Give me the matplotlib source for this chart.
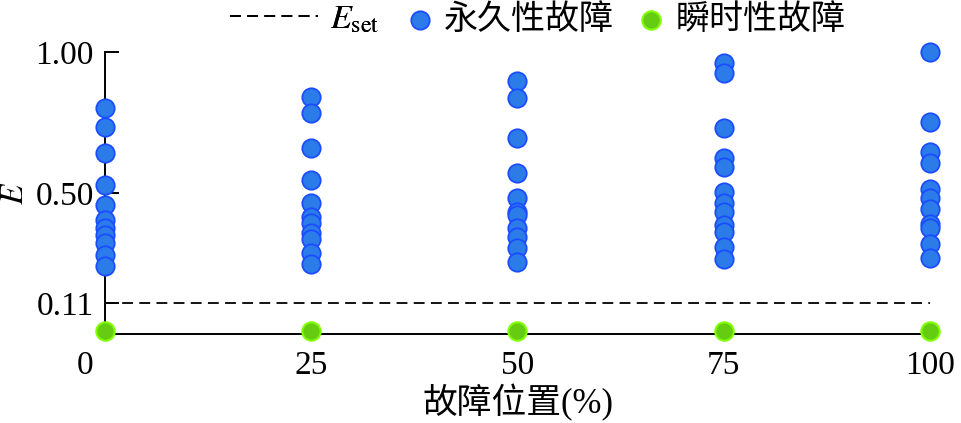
import matplotlib.pyplot as plt
import numpy as np
from matplotlib.transforms import ScaledTranslation

plt.rcParams['font.family'] = ['Liberation Serif', 'Noto Sans CJK SC']
plt.rcParams['mathtext.fontset'] = 'stix'

# -------------------------
# Data
# -------------------------
positions = [0, 25, 50, 75, 100]
e_set = 0.11

perm_0 = [0.800, 0.735, 0.641, 0.528, 0.457, 0.404, 0.376, 0.351, 0.323, 0.280, 0.241]
perm_25 = [0.839, 0.783, 0.661, 0.546, 0.466, 0.416, 0.393, 0.359, 0.336, 0.288, 0.247]
perm_50 = [0.897, 0.838, 0.694, 0.570, 0.481, 0.434, 0.422, 0.375, 0.345, 0.304, 0.254]
perm_75 = [0.960, 0.924, 0.729, 0.623, 0.593, 0.505, 0.463, 0.434, 0.387, 0.363, 0.310, 0.265]
perm_100 = [1.000, 0.751, 0.647, 0.608, 0.514, 0.481, 0.443, 0.389, 0.377, 0.318, 0.271]
perm_values = [perm_0, perm_25, perm_50, perm_75, perm_100]

trans_values = [0.012, 0.012, 0.012, 0.012, 0.012]

yticks = [0.11, 0.50, 1.00]
yticklabels = ["0.11", "0.50", "1.00"]

# -------------------------
# Plot
# -------------------------
fig = plt.figure(figsize=(9.62, 4.23), dpi=100)
ax = fig.add_axes([105 / 962, 89 / 423, 825 / 962, 282 / 423])

line = ax.hlines(e_set, positions[0], positions[-1], colors="black",
                 linestyles=(0, (6, 3.5)), linewidth=1.3, zorder=2)

for i, (x, vals) in enumerate(zip(positions, perm_values)):
    sc = ax.scatter([x] * len(vals), vals, s=175, color="#2b7be9", edgecolors="#1a4dff",
                    linewidths=1.3, clip_on=False, zorder=4)
    if i == 0:
        perm_handle = sc

trans_handle = ax.scatter(positions, trans_values, s=175, color="#66cc11", edgecolors="#80ff00",
                          linewidths=1.5, clip_on=False, zorder=5)

ax.set_xlim(0, 100)
ax.set_ylim(0, 1.0)
ax.set_xticks(positions)
ax.set_xticklabels([str(p) for p in positions])
ax.set_yticks(yticks)
ax.set_yticklabels(yticklabels)

for s in ["top", "right"]:
    ax.spines[s].set_visible(False)
for s in ["left", "bottom"]:
    ax.spines[s].set_linewidth(1.4)

ax.tick_params(axis='y', direction='in', length=10, width=1.4, pad=8, labelsize=24)
ax.tick_params(axis='x', length=0, pad=12, labelsize=24)

# move the "0" label to the left like in the original
lbl0 = ax.get_xticklabels()[0]
lbl0.set_transform(lbl0.get_transform() + ScaledTranslation(-20 / 100, 0, fig.dpi_scale_trans))

ax.set_xlabel("故障位置(%)", fontsize=25, labelpad=2)
ax.set_ylabel("$E$", fontsize=24, labelpad=4)

# Legends (two pieces so the dashed handle can be longer)
leg1 = fig.legend(
    [line], [r"$E_{\mathrm{set}}$"],
    loc="center left",
    bbox_to_anchor=(230 / 962, 1 - 20 / 423),
    frameon=False,
    fontsize=24.5,
    handlelength=2.6,
    handletextpad=0.35,
    borderpad=0,
    borderaxespad=0,
)
fig.add_artist(leg1)
fig.legend(
    [perm_handle, trans_handle], ["永久性故障", "瞬时性故障"],
    loc="center left",
    bbox_to_anchor=(410 / 962, 1 - 20 / 423),
    ncol=2,
    frameon=False,
    fontsize=24.5,
    handlelength=0.6,
    handletextpad=0.4,
    columnspacing=0.8,
    borderpad=0,
    borderaxespad=0,
)

fig.savefig("out.png", dpi=100)
